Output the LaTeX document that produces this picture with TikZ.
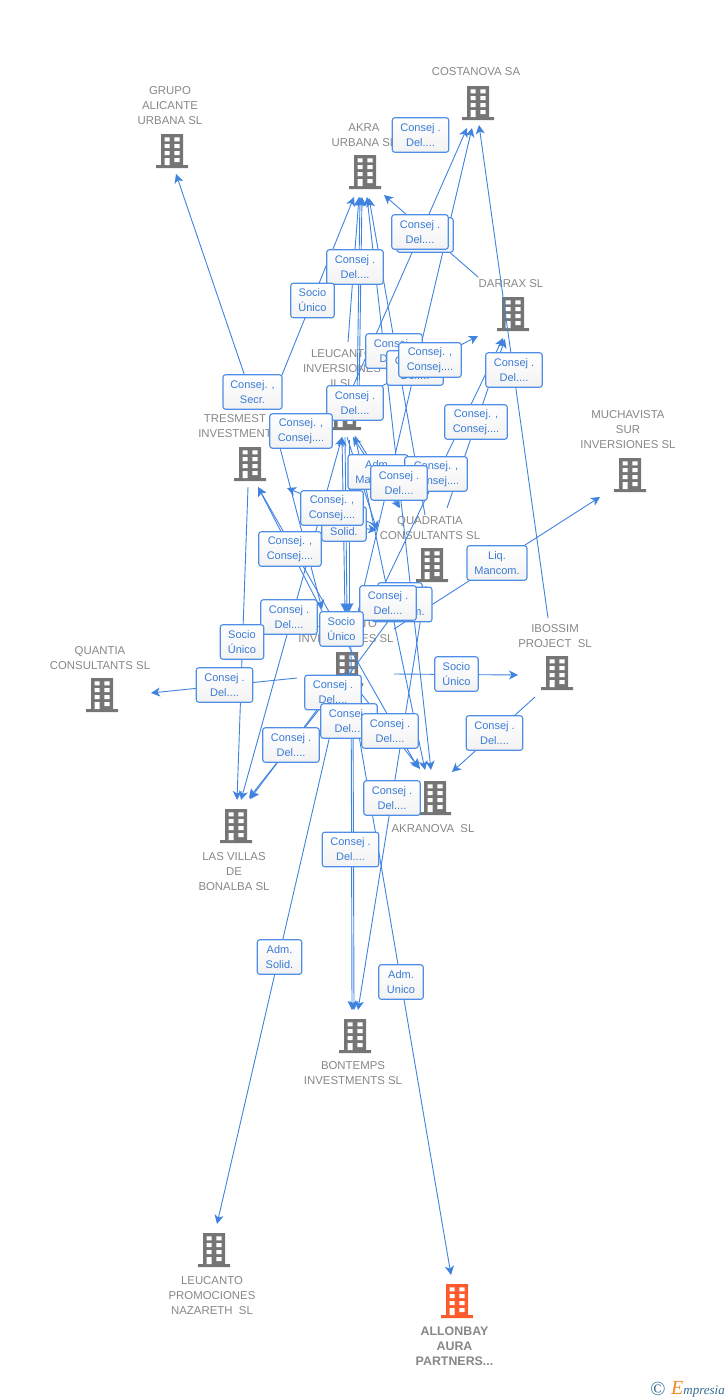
\documentclass[tikz,border=0pt]{standalone}
\usepackage{fontspec}
\setmainfont{Liberation Sans}
\newfontfamily\logofont{Liberation Serif}
\usetikzlibrary{arrows.meta}
\definecolor{linkblue}{HTML}{3F83DF}
\definecolor{boxblue}{HTML}{4F8EE6}
\definecolor{boxtext}{HTML}{3A7BD5}
\definecolor{firmgray}{HTML}{757575}
\definecolor{labelgray}{HTML}{878787}
\definecolor{hotfirm}{HTML}{FF5A2B}
\definecolor{logoteal}{HTML}{2F6E8E}
\definecolor{logoorange}{HTML}{F08A1D}
\tikzset{
  building/.pic={
    \fill[pic actions] (-11,-17) rectangle (11,15) (-16,14) rectangle (16,17);
    \fill[white] (-7.5,-13.7) rectangle (-2.4,-9.7) (2.4,-13.7) rectangle (7.5,-9.7)
      (-7.5,-7) rectangle (-2.4,-3) (2.4,-7) rectangle (7.5,-3)
      (-7.5,0) rectangle (-2.4,4) (2.4,0) rectangle (7.5,4)
      (-7.5,7) rectangle (-2.4,14) (2.4,7) rectangle (7.5,11);
  },
  firm/.style={align=center,text=labelgray,font=\fontsize{11.4}{15}\selectfont,inner sep=0pt,yshift=-1pt},
  link/.style={draw=linkblue,line width=0.9pt,->,>={Stealth[length=9pt,width=9pt,inset=2.5pt]}},
  role/.style={draw=boxblue,line width=1.1pt,rounded corners=2.5pt,top color=white,bottom color=white!95!black,
    text=boxtext,align=center,font=\fontsize{11}{15}\selectfont,inner sep=0pt,minimum height=34.5pt},
  del/.style={role,minimum width=56.5pt},
  cons/.style={role,minimum width=62.5pt},
  socio/.style={role,minimum width=43.5pt},
  adm/.style={role,minimum width=44.5pt},
  manc/.style={role,minimum width=60pt}
}
\begin{document}
\begin{tikzpicture}[x=1pt,y=-1pt]
\useasboundingbox (0,0) rectangle (728,1400);
\pic[fill=firmgray] at (478,103) {building};
\pic[fill=firmgray] at (172,151) {building};
\pic[fill=firmgray] at (365,172) {building};
\pic[fill=firmgray] at (513,314) {building};
\pic[fill=firmgray] at (630,475) {building};
\pic[fill=firmgray] at (345,413) {building};
\pic[fill=firmgray] at (250,464) {building};
\pic[fill=firmgray] at (432,565) {building};
\pic[fill=firmgray] at (347,669) {building};
\pic[fill=firmgray] at (102,695) {building};
\pic[fill=firmgray] at (557,673) {building};
\pic[fill=firmgray] at (236,826) {building};
\pic[fill=firmgray] at (435,798) {building};
\pic[fill=firmgray] at (355,1036) {building};
\pic[fill=firmgray] at (214,1250) {building};
\pic[fill=hotfirm] at (457,1301) {building};
\node[firm] (costanova) at (476,71) {COSTANOVA SA};
\node[firm] (grupo) at (170,105) {GRUPO\\ALICANTE\\URBANA SL};
\node[firm] (akra) at (364,134.5) {AKRA\\URBANA SL};
\node[firm] (darrax) at (511,283) {DARRAX SL};
\node[firm] (muchavista) at (628,429) {MUCHAVISTA\\SUR\\INVERSIONES SL};
\node[firm] (leucantoii) at (342,368) {LEUCANTO\\INVERSIONES\\II SL};
\node[firm] (tresmest) at (235,425.5) {TRESMEST\\INVESTMENT};
\node[firm] (quadratia) at (430,527.5) {QUADRATIA\\CONSULTANTS SL};
\node[firm] (leucantoinv) at (346,630.5) {LEUCANTO\\INVERSIONES SL};
\node[firm] (quantia) at (100,657.5) {QUANTIA\\CONSULTANTS SL};
\node[firm] (ibossim) at (555,635.5) {IBOSSIM\\PROJECT\ \ SL};
\node[firm] (lasvillas) at (234,871) {LAS VILLAS\\DE\\BONALBA SL};
\node[firm] (akranova) at (433,828) {AKRANOVA\ \ SL};
\node[firm] (bontemps) at (353,1072.5) {BONTEMPS\\INVESTMENTS SL};
\node[firm] (leucantoprom) at (212,1295) {LEUCANTO\\PROMOCIONES\\NAZARETH\ \ SL};
\node[firm,font=\bfseries\fontsize{12.4}{15}\selectfont,text=labelgray] (allonbay) at (454.5,1345.5) {ALLONBAY\\AURA\\PARTNERS...};
\node[inner sep=0pt,text=logoteal,font=\logofont\fontsize{20}{20}\selectfont] (logoc) at (658,1388.5) {©};
\node[inner sep=0pt,anchor=base west,text=logoteal,font=\logofont\itshape\fontsize{13}{13}\selectfont] (logo) at (671,1394) {{\color{logoorange}\fontsize{20}{20}\selectfont E}mpresia};
\coordinate (grupoIn) at (176,174);
\coordinate (secrOut) at (253,400);
\coordinate (akraInA) at (354,197);
\coordinate (akraInB) at (359,197);
\coordinate (akraInC) at (360,197);
\coordinate (akraInD) at (362,197);
\coordinate (akraInE) at (367,197);
\coordinate (akraInF) at (369,198);
\coordinate (akraInG) at (384,195);
\coordinate (socioOut) at (269,407);
\coordinate (leuTopA) at (348,342);
\coordinate (leuTopB) at (357,400);
\coordinate (leuTopC) at (359,400);
\coordinate (quadTop) at (425,515);
\coordinate (darraxOut) at (478,277);
\coordinate (costInA) at (467,128);
\coordinate (costInB) at (472,128);
\coordinate (costInC) at (479,125);
\coordinate (leuMidA) at (347,400);
\coordinate (invOutA) at (355,625);
\coordinate (ibosOutA) at (548,618);
\coordinate (leuOutB) at (382,386);
\coordinate (darraxInA) at (478,336);
\coordinate (darraxInB) at (503,338);
\coordinate (darraxInC) at (505,339);
\coordinate (quadOutA) at (373,608);
\coordinate (quadOutB) at (447,508);
\coordinate (quadOutC) at (394,629);
\coordinate (muchaIn) at (600,497);
\coordinate (leuInA) at (353,437);
\coordinate (leuInB) at (356,437);
\coordinate (quadInA) at (398,507);
\coordinate (quadInB) at (400,508);
\coordinate (leuInC) at (347,437);
\coordinate (quadInC) at (377,530);
\coordinate (tresInA) at (287,488);
\coordinate (quadOutD) at (378,526);
\coordinate (tresOutA) at (310,522);
\coordinate (consOut) at (278,440);
\coordinate (invInA) at (322,609);
\coordinate (tresIn) at (258,487);
\coordinate (invOutB) at (322,611);
\coordinate (akranovaInA) at (420,769);
\coordinate (akranovaInB) at (425,770);
\coordinate (akranovaInC) at (431,770);
\coordinate (akranovaInD) at (452,772);
\coordinate (akranovaInE) at (418,768);
\coordinate (tresOutB) at (248,487);
\coordinate (villasInA) at (237,800);
\coordinate (villasInB) at (241,800);
\coordinate (villasInC) at (249,798);
\coordinate (villasInD) at (250,799);
\coordinate (leuDownA) at (342,437);
\coordinate (leuDownB) at (345,437);
\coordinate (leuDownC) at (349,440);
\coordinate (leuDownD) at (355,436);
\coordinate (invInB) at (345,612);
\coordinate (invInC) at (347,612);
\coordinate (invInD) at (349,612);
\coordinate (invOutC) at (333,692);
\coordinate (invOutD) at (347,670);
\coordinate (invOutE) at (297,678);
\coordinate (invOutF) at (394,674);
\coordinate (invOutG) at (360,692);
\coordinate (invOutH) at (340,692);
\coordinate (invOutI) at (351,689);
\coordinate (invOutJ) at (351,640);
\coordinate (invOutK) at (353,700);
\coordinate (invOutL) at (345,680);
\coordinate (boxEnd) at (395,612);
\coordinate (quantiaIn) at (151,693);
\coordinate (ibosIn) at (518,675);
\coordinate (ibosOutB) at (535,697);
\coordinate (promIn) at (217,1224);
\coordinate (allonIn) at (451,1275);
\coordinate (bontInA) at (352,1010);
\coordinate (bontInB) at (354,1010);
\coordinate (bontInC) at (358,1010);
\coordinate (quadOutE) at (426,586);
\draw[link] (secrOut) -- (grupoIn);
\draw[link] (socioOut) -- (akraInA);
\draw[link] (leuTopA) -- (akraInB);
\draw[link] (leuTopB) -- (akraInC);
\draw[link] (leuTopC) -- (akraInD);
\draw[link,<->] (akranovaInC) -- (akraInE);
\draw[link] (quadTop) -- (akraInF);
\draw[link] (darraxOut) -- (akraInG);
\draw[link] (leuMidA) -- (costInA);
\draw[link] (invOutA) -- (costInB);
\draw[link] (ibosOutA) -- (costInC);
\draw[link] (leuOutB) -- (darraxInA);
\draw[link] (quadOutA) -- (darraxInB);
\draw[link] (quadOutB) -- (darraxInC);
\draw[link] (quadOutC) -- (muchaIn);
\draw[link] (quadInA) -- (leuInA);
\draw[link] (leuInB) -- (quadInB);
\draw[link] (leuInC) -- (quadInC);
\draw[link] (quadOutD) -- (tresInA);
\draw[link] (tresOutA) -- (quadInC);
\draw[link] (consOut) -- (invInA);
\draw[link] (invOutB) -- (tresIn);
\draw[link,<->] (akranovaInE) -- (tresIn);
\draw[link] (leuDownD) -- (akranovaInB);
\draw[link] (tresOutB) -- (villasInA);
\draw[link,<->] (leuDownA) -- (villasInB);
\draw[link] (invOutC) -- (villasInC);
\draw[link] (invOutD) -- (villasInD);
\draw[link,<->] (leuDownA) -- (invInB);
\draw[link] (leuDownB) -- (invInC);
\draw[link] (leuDownC) -- (invInD);
\draw[link] (invOutE) -- (quantiaIn);
\draw[link] (invOutF) -- (ibosIn);
\draw[link] (ibosOutB) -- (akranovaInD);
\draw[link] (invOutG) -- (akranovaInA);
\draw[link] (invOutH) -- (promIn);
\draw[link] (invOutI) -- (allonIn);
\draw[link] (invOutJ) -- (bontInA);
\draw[link] (invOutK) -- (bontInB);
\draw[link] (quadOutE) -- (bontInC);
\draw[link] (invOutL) -- (boxEnd);
\node[del] (delA) at (420.5,135) {Consej .\\Del....};
\node[del] (delB) at (425,235) {Consej .\\Del....};
\node[del] (delC) at (420,232) {Consej .\\Del....};
\node[del] (delD) at (355,267) {Consej .\\Del....};
\node[socio] (socioA) at (312.5,300.5) {Socio\\Único};
\node[del] (delE) at (394,351) {Consej .\\Del....};
\node[del] (delF) at (415,368) {Consej .\\Del....};
\node[cons] (consA) at (430,360) {Consej. ,\\Consej....};
\node[del] (delG) at (514,370) {Consej .\\Del....};
\node[role,minimum width=59pt] (secr) at (252.5,392) {Consej. ,\\Secr.};
\node[del] (delH) at (355,403) {Consej .\\Del....};
\node[cons] (consB) at (301,431) {Consej. ,\\Consej....};
\node[cons] (consC) at (476,422) {Consej. ,\\Consej....};
\node[manc] (mancA) at (378,472) {Adm.\\Mancom.};
\node[cons] (consD) at (436,474) {Consej. ,\\Consej....};
\node[del] (delI) at (399,483) {Consej .\\Del....};
\node[adm] (admA) at (344,524) {Adm.\\Solid.};
\node[cons] (consE) at (332,508) {Consej. ,\\Consej....};
\node[cons] (consF) at (290,549) {Consej. ,\\Consej....};
\node[manc] (liq) at (497,563) {Liq.\\Mancom.};
\node[adm] (admB) at (400,600) {Adm.\\Solid.};
\node[manc] (mancB) at (402,604.5) {Adm.\\Mancom.};
\node[del] (delJ) at (388,603) {Consej .\\Del....};
\node[del] (delK) at (289,617) {Consej .\\Del....};
\node[socio] (socioB) at (341.5,629) {Socio\\Único};
\node[socio] (socioC) at (242,642) {Socio\\Único};
\node[del] (delL) at (224.5,685) {Consej .\\Del....};
\node[socio] (socioD) at (456.5,674) {Socio\\Único};
\node[del] (delM) at (333,692.5) {Consej .\\Del....};
\node[del] (delN) at (349,721) {Consej .\\Del....};
\node[del] (delO) at (390,731) {Consej .\\Del....};
\node[del] (delP) at (494.5,733) {Consej .\\Del....};
\node[del] (delQ) at (291,745) {Consej .\\Del....};
\node[del] (delR) at (392,798) {Consej .\\Del....};
\node[del] (delS) at (350.5,849.5) {Consej .\\Del....};
\node[adm] (admC) at (279.5,957) {Adm.\\Solid.};
\node[adm] (admD) at (401,982) {Adm.\\Unico};
\end{tikzpicture}
\end{document}
